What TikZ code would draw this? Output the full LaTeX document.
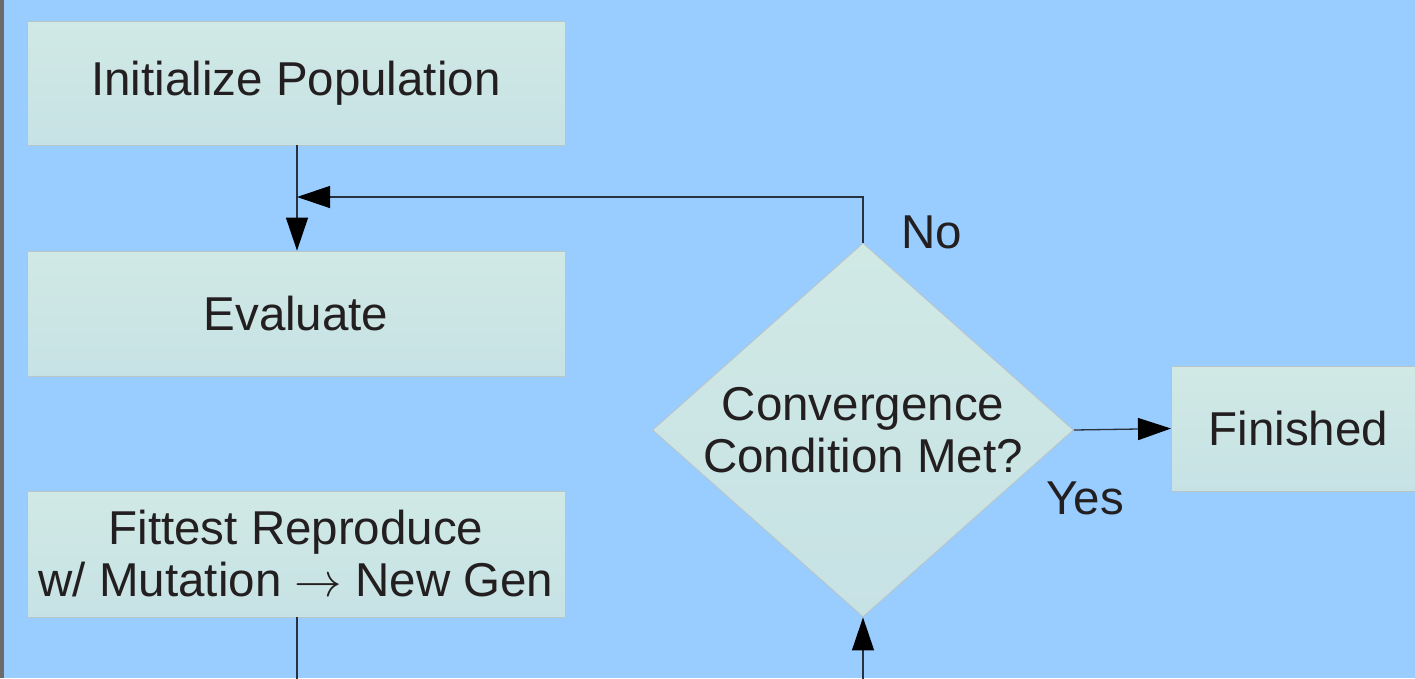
\documentclass[tikz,border=0pt]{standalone}
\usepackage{graphicx}
\usepackage{fontspec}
\setmainfont{Liberation Sans}
\usetikzlibrary{arrows.meta,shapes.geometric}
\definecolor{bgblue}{RGB}{153,204,255}
\definecolor{boxtop}{RGB}{208,233,229}
\definecolor{boxbot}{RGB}{199,226,229}
\definecolor{boxline}{RGB}{185,196,198}
\definecolor{txt}{RGB}{35,31,32}
\definecolor{conn}{RGB}{40,50,62}
\definecolor{edge}{RGB}{107,107,107}
\newcommand{\bigarrow}{\scalebox{4.75}{\normalsize$\rightarrow$}}
\tikzset{
  flowbox/.style={draw=boxline, line width=0.8pt, top color=boxtop, bottom color=boxbot,
    rectangle, inner sep=0pt, align=center, text=txt,
    font=\fontsize{47.5}{52}\selectfont},
  decision/.style={draw=boxline, line width=0.8pt, top color=boxtop, bottom color=boxbot,
    diamond, aspect=1.126, inner sep=0pt, minimum width=421pt, minimum height=374pt,
    align=center, text=txt, font=\fontsize{47.5}{52}\selectfont},
  lbl/.style={text=txt, font=\fontsize{47.5}{52}\selectfont, inner sep=0pt},
  conline/.style={draw=conn, line width=1.3pt},
  conarrow/.style={conline, -{Triangle[length=33pt, width=22pt, color=black]}},
}
\begin{document}
\begin{tikzpicture}[x=1pt, y=-1pt]
\useasboundingbox (0,0) rectangle (1415,678);
\clip (0,0) rectangle (1415,678);
\fill[bgblue] (0,0) rectangle (1415,678);
\fill[edge] (0,0) rectangle (3.5,678);

\node[flowbox, minimum width=538pt, minimum height=124pt] (init) at (296,83) {Initialize Population};
\node[flowbox, minimum width=538pt, minimum height=125pt] (eval) at (296,313.5) {Evaluate};
\node[flowbox, minimum width=538pt, minimum height=126pt] (fit) at (296,554) {Fittest Reproduce\\w/ Mutation \bigarrow{} New Gen};
\node[decision] (dia) at (863,430) {Convergence\\Condition Met?};
\node[flowbox, minimum width=262pt, minimum height=125pt, anchor=west] (fin) at (1171,428.5) {\hspace*{2pt}Finished\hspace*{10pt}};

\node[lbl] (no) at (932,232) {No};
\node[lbl] (yes) at (1085,498) {Yes};

\coordinate (join) at (297,197);
\coordinate (fitout) at (297,700);
\coordinate (diain) at (863,700);

\draw[conarrow] (init.south -| join) -- (eval.north -| join);
\draw[conarrow] (dia.north) |- (join);
\draw[conline] (fit.south -| join) -- (fitout);
\draw[conarrow] (diain) -- (dia.south);
\draw[conarrow] (dia.east) -- (fin.west);
\end{tikzpicture}
\end{document}
